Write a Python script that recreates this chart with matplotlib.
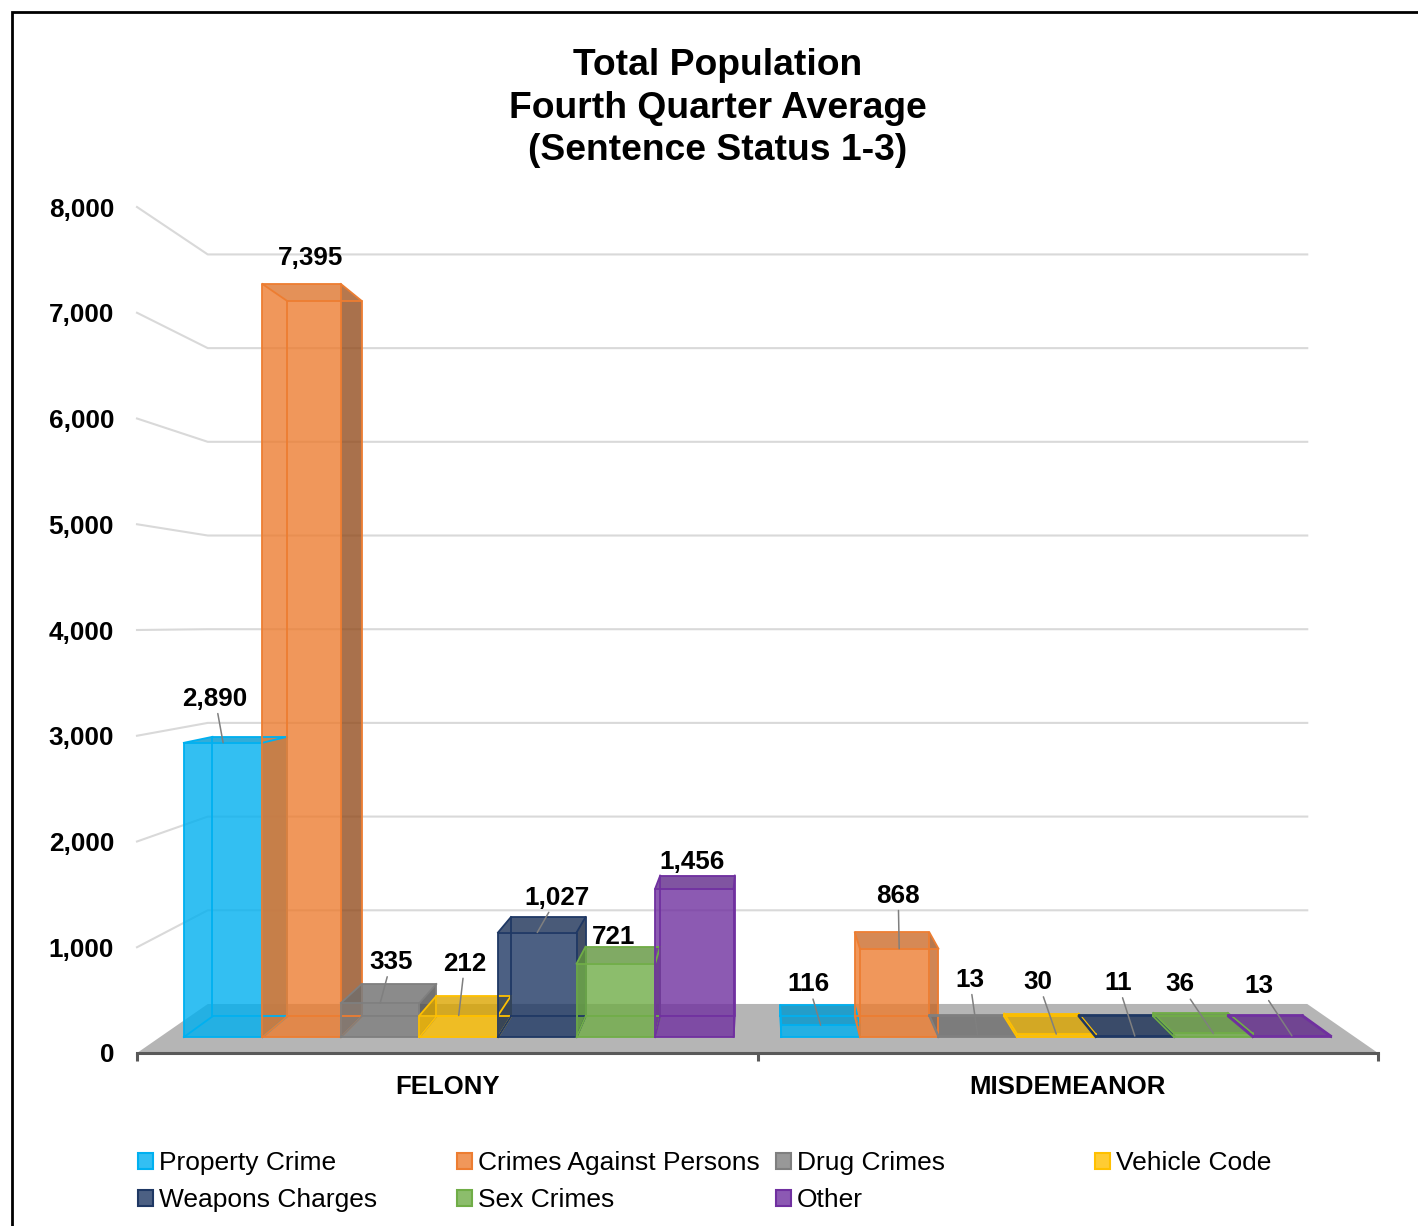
import numpy as np
import matplotlib.pyplot as plt
from matplotlib.patches import Polygon, Patch, Rectangle
from matplotlib.colors import to_rgb

plt.rcParams['font.family'] = ['Liberation Sans', 'DejaVu Sans']

categories = ['FELONY', 'MISDEMEANOR']
series = ['Property Crime', 'Crimes Against Persons', 'Drug Crimes', 'Vehicle Code',
          'Weapons Charges', 'Sex Crimes', 'Other']
property_crime = [2890, 116]
crimes_against_persons = [7395, 868]
drug_crimes = [335, 13]
vehicle_code = [212, 30]
weapons_charges = [1027, 11]
sex_crimes = [721, 36]
other = [1456, 13]
values = [property_crime, crimes_against_persons, drug_crimes, vehicle_code,
          weapons_charges, sex_crimes, other]
y_ticks = list(range(0, 8001, 1000))

colors = ['#00B0F0', '#ED7D31', '#7F7F7F', '#FFC000', '#1F3864', '#70AD47', '#7030A0']

# where Excel moved each data label, pixels from the front top edge centre
label_offsets = [[(-8, -44), (-12, -41)], [(9, -26), (-1, -53)], [(11, -41), (-8, -56)],
                 [(6, -52), (-18, -52)], [(20, -35), (-17, -53)], [(-2, -27), (-33, -49)],
                 [(-2, -27), (-33, -50)]]

# perspective camera (data units): vanishing point and depths
VP = (1.0, 4066.0)
FLOOR_DEPTH = 0.1287
BAR_FRONT, BAR_BACK = 0.0384, 0.0929
MARGIN = 0.04
BAR_W = (1 - 2 * MARGIN) / len(series)


def proj(x, v, w):
    s = 1.0 / (1.0 + w)
    return VP[0] + s * (x - VP[0]), VP[1] + s * (v - VP[1])


def shade(color, k):
    r, g, b = to_rgb(color)
    return (r * k, g * k, b * k)


fig = plt.figure(figsize=(14.18, 12.26), dpi=100)
ax = fig.add_axes([137 / 1418, 173 / 1226, 1241 / 1418, 846 / 1226])
ax.set_xlim(0, 2)
ax.set_ylim(0, 8000)
ax.patch.set_alpha(0)
for side in ['top', 'right', 'left']:
    ax.spines[side].set_visible(False)
ax.spines['bottom'].set_color('#595959')
ax.spines['bottom'].set_linewidth(2.2)
ax.spines['bottom'].set_zorder(4)

ax.set_yticks(y_ticks)
ax.set_yticklabels([f'{t:,}' for t in y_ticks], fontsize=18.8, fontweight='bold')
ax.tick_params(axis='y', length=0, pad=16.5)
ax.set_xticks([0, 1, 2])
ax.set_xticklabels([])
ax.set_xticks([0.5, 1.5], minor=True)
ax.set_xticklabels(categories, minor=True, fontsize=18.5, fontweight='bold')
ax.tick_params(axis='x', which='major', length=6, width=2.2, color='#595959', direction='out')
ax.tick_params(axis='x', which='minor', length=0, pad=16)

# walls: side and back gridlines
for t in y_ticks[1:]:
    pts = [proj(0, t, 0), proj(0, t, FLOOR_DEPTH), proj(2, t, FLOOR_DEPTH)]
    ax.plot([p[0] for p in pts], [p[1] for p in pts], color='#d9d9d9', lw=1.5,
            zorder=0.5, clip_on=False)

# floor
floor = [proj(0, 0, 0), proj(2, 0, 0), proj(2, 0, FLOOR_DEPTH), proj(0, 0, FLOOR_DEPTH)]
ax.add_patch(Polygon(floor, closed=True, facecolor='#b5b5b5', edgecolor='none',
                     zorder=1, clip_on=False))

# bars
face_shade = {'back': 1.0, 'bottom': 1.0, 'left': 1.0, 'right': 0.45, 'top': 0.8, 'front': 1.0}
for c in range(len(categories)):
    for i, name in enumerate(series):
        v = values[i][c]
        x0 = c + MARGIN + i * BAR_W
        x1 = x0 + BAR_W
        wf, wb = BAR_FRONT, BAR_BACK
        faces = {
            'back': [(x0, 0, wb), (x1, 0, wb), (x1, v, wb), (x0, v, wb)],
            'bottom': [(x0, 0, wf), (x1, 0, wf), (x1, 0, wb), (x0, 0, wb)],
            'left': [(x0, 0, wf), (x0, 0, wb), (x0, v, wb), (x0, v, wf)],
            'right': [(x1, 0, wf), (x1, 0, wb), (x1, v, wb), (x1, v, wf)],
            'top': [(x0, v, wf), (x1, v, wf), (x1, v, wb), (x0, v, wb)],
            'front': [(x0, 0, wf), (x1, 0, wf), (x1, v, wf), (x0, v, wf)],
        }
        for key, corners in faces.items():
            pts = [proj(*p) for p in corners]
            ax.add_patch(Polygon(pts, closed=True, facecolor=shade(colors[i], face_shade[key]),
                                 alpha=0.55, edgecolor='none', zorder=2, clip_on=False))
        for key in ['back', 'front']:
            pts = [proj(*p) for p in faces[key]] + [proj(*faces[key][0])]
            ax.plot([p[0] for p in pts], [p[1] for p in pts], color=colors[i], lw=1.3,
                    zorder=3, clip_on=False)
        for xx in [x0, x1]:
            for vv in [0, v]:
                a, b = proj(xx, vv, wf), proj(xx, vv, wb)
                ax.plot([a[0], b[0]], [a[1], b[1]], color=colors[i], lw=1.3,
                        zorder=3, clip_on=False)

        # data label
        cx, cy = proj(x0 + BAR_W / 2, v, wf)
        dx, dy = label_offsets[i][c]
        leader = np.hypot(dx, dy) > 30
        ax.annotate(f'{v:,}', xy=(cx, cy), xytext=(dx * 0.72, -dy * 0.72),
                    textcoords='offset points', ha='center', va='center',
                    fontsize=18.7, fontweight='bold', zorder=6, annotation_clip=False,
                    arrowprops=dict(arrowstyle='-', color='#7f7f7f', lw=1.1,
                                    shrinkA=0, shrinkB=0) if leader else None)

# title
fig.text(718 / 1418, 1 - 108 / 1226,
         'Total Population\nFourth Quarter Average\n(Sentence Status 1-3)',
         ha='center', va='center', fontsize=26.8, fontweight='bold', linespacing=1.27)

# legend, four columns
columns = [[0, 4], [1, 5], [2, 6], [3]]
for k, col in enumerate(columns):
    handles = []
    for i in col:
        r, g, b = to_rgb(colors[i])
        handles.append(Patch(facecolor=(r, g, b, 0.8), edgecolor=colors[i], lw=1.5,
                             label=series[i]))
    fig.legend(handles=handles, loc='upper left',
               bbox_to_anchor=((138 + 319 * k) / 1418, 1 - 1151 / 1226),
               frameon=False, fontsize=19, handlelength=0.57, handleheight=0.57,
               handletextpad=0.23, labelspacing=0.5, borderpad=0, borderaxespad=0)

fig.add_artist(Rectangle((12 / 1418, -0.5), 2, 1.5 - 12 / 1226, transform=fig.transFigure,
                         fill=False, edgecolor='black', lw=2))

fig.savefig('out.png', dpi=100)
